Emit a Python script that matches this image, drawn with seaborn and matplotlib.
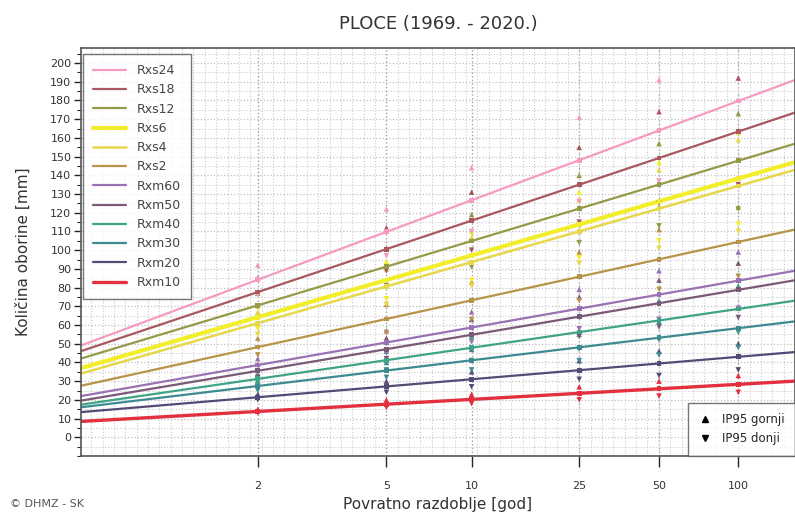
import numpy as np
import pandas as pd
import matplotlib
matplotlib.use("Agg")
import matplotlib.pyplot as plt
from matplotlib.lines import Line2D
from matplotlib.ticker import MultipleLocator
import seaborn as sns

# series (top to bottom in legend)
series = ["Rxs24", "Rxs18", "Rxs12", "Rxs6", "Rxs4", "Rxs2",
          "Rxm60", "Rxm50", "Rxm40", "Rxm30", "Rxm20", "Rxm10"]
colors = ["#f59ac0", "#a8585e", "#959a48", "#f2ee2a", "#e6d84a", "#b89448",
          "#9a72b4", "#7a5a78", "#3fa486", "#3e8a92", "#554a76", "#e2303e"]
widths = [1.6, 1.6, 1.6, 3.0, 1.8, 1.6, 1.6, 1.6, 1.6, 1.6, 1.6, 2.4]

return_periods = [2, 5, 10, 25, 50, 100]

# fitted quantiles at T=2 and T=100 [mm]
val_t2 = [84.2, 77.6, 70.5, 64.2, 61.0, 48.2, 38.6, 35.5, 31.2, 27.4, 21.4, 13.8]
val_t100 = [179.7, 163.4, 147.8, 138.3, 134.3, 104.4, 83.7, 78.8, 68.6, 58.3, 43.0, 28.3]

# 95% interval bounds at each return period
ip95_upper = [
    [92, 122, 144, 171, 191, 211],
    [85, 112, 131, 155, 174, 192],
    [77, 101, 119, 140, 157, 173],
    [70, 94, 110, 131, 147, 163],
    [67, 90, 107, 127, 143, 159],
    [53, 71, 83, 99, 111, 123],
    [42, 57, 67, 79, 89, 99],
    [39, 53, 63, 75, 84, 93],
    [34, 46, 54, 65, 73, 81],
    [30, 40, 47, 55, 62, 69],
    [23, 30, 35, 41, 46, 50],
    [15, 20, 23, 27, 30, 33],
]
ip95_lower = [
    [76, 97, 110, 126, 137, 148],
    [70, 89, 100, 115, 125, 135],
    [64, 81, 91, 104, 113, 122],
    [58, 74, 84, 96, 105, 114],
    [55, 71, 81, 93, 101, 110],
    [44, 56, 63, 73, 79, 86],
    [35, 45, 51, 58, 63, 69],
    [32, 42, 47, 54, 59, 64],
    [28, 36, 41, 47, 52, 56],
    [25, 32, 36, 41, 44, 48],
    [20, 24, 27, 31, 33, 36],
    [13, 16, 18, 20, 22, 24],
]


def gumbel(T):
    T = np.asarray(T, dtype=float)
    return -np.log(-np.log(1 - 1 / T))


u_ticks = gumbel(return_periods)
x_min, x_max = -1.19, 5.1
u2, u100 = gumbel(2), gumbel(100)

sns.set_style("white")
plt.rcParams['font.family'] = ['DejaVu Sans']

fig = plt.figure(figsize=(7.95, 5.17), dpi=100)
ax = fig.add_axes([0.102, 0.118, 0.898, 0.789])

# grid first
ax.xaxis.set_minor_locator(MultipleLocator(0.1))
ax.yaxis.set_major_locator(MultipleLocator(10))
ax.yaxis.set_minor_locator(MultipleLocator(5))
ax.grid(which='minor', color='#cccccc', linestyle=':', linewidth=0.8)
ax.grid(which='major', axis='y', color='#c0c0c0', linestyle=':', linewidth=0.9)
for u in u_ticks:
    ax.axvline(u, color='#a0a0a0', linestyle=':', linewidth=1.0, zorder=0.5)

# markers for each series
rows = []
for i, s in enumerate(series):
    b = (val_t100[i] - val_t2[i]) / (u100 - u2)
    for j, T in enumerate(return_periods):
        est = val_t2[i] + b * (u_ticks[j] - u2)
        rows.append((s, u_ticks[j], est, ip95_upper[i][j], ip95_lower[i][j]))
pts = pd.DataFrame(rows, columns=['serie', 'u', 'est', 'up', 'lo'])
pal = dict(zip(series, colors))

sns.scatterplot(data=pts, x='u', y='up', hue='serie', palette=pal, marker='^',
                s=16, linewidth=0, legend=False, ax=ax, zorder=3)
sns.scatterplot(data=pts, x='u', y='lo', hue='serie', palette=pal, marker='v',
                s=16, linewidth=0, legend=False, ax=ax, zorder=3)
sns.scatterplot(data=pts, x='u', y='est', hue='serie', palette=pal, marker='s',
                s=12, linewidth=0, legend=False, ax=ax, zorder=3)

# fitted lines across the whole axis
for i, s in enumerate(series):
    b = (val_t100[i] - val_t2[i]) / (u100 - u2)
    xs = np.array([x_min, x_max])
    line = pd.DataFrame({'u': xs, 'v': val_t2[i] + b * (xs - u2)})
    sns.lineplot(data=line, x='u', y='v', color=colors[i], linewidth=widths[i],
                 label=s, ax=ax, zorder=2)

ax.set_xlim(x_min, x_max)
ax.set_ylim(-10, 208)
ax.set_xticks(u_ticks)
ax.set_xticklabels([str(t) for t in return_periods], fontsize=8, color='#333333')
ax.set_yticks(range(0, 201, 10))
ax.set_yticklabels([str(v) for v in range(0, 201, 10)], fontsize=8, color='#333333')
ax.tick_params(axis='x', which='major', direction='out', length=8, width=1, pad=10, bottom=True)
ax.tick_params(axis='x', which='minor', length=0)
ax.tick_params(axis='y', which='major', direction='out', length=5, width=1, left=True, pad=2)
ax.tick_params(axis='y', which='minor', direction='out', length=3, width=0.8, left=True)

for sp in ax.spines.values():
    sp.set_color('#555555')
    sp.set_linewidth(1.2)

ax.set_xlabel('Povratno razdoblje [god]', fontsize=11, color='#333333', labelpad=4)
ax.set_ylabel('Količina oborine [mm]', fontsize=11, color='#333333', labelpad=14)
ax.set_title('PLOCE (1969. - 2020.)', fontsize=13, color='#333333', pad=14)

leg1 = ax.legend(loc='upper left', fontsize=9, frameon=True, fancybox=False,
                 edgecolor='#555555', handlelength=2.6, labelspacing=0.5,
                 handletextpad=0.9, borderpad=0.8, borderaxespad=0,
                 bbox_to_anchor=(0.003, 0.985))
leg1.get_frame().set_linewidth(1.0)
for t in leg1.get_texts():
    t.set_color('#444444')
ax.add_artist(leg1)

ip_handles = [Line2D([], [], marker='^', color='black', linestyle='none', markersize=5),
              Line2D([], [], marker='v', color='black', linestyle='none', markersize=5)]
leg2 = ax.legend(ip_handles, ['IP95 gornji', 'IP95 donji'], loc='lower right',
                 fontsize=8.5, frameon=True, fancybox=False, edgecolor='#555555',
                 handlelength=1.2, borderpad=0.9, labelspacing=0.5,
                 borderaxespad=0, bbox_to_anchor=(1.0, 0.0))
leg2.get_frame().set_linewidth(1.0)

fig.text(0.012, 0.02, '© DHMZ - SK', fontsize=8, color='#555555')

fig.savefig('out.png', dpi=100)
